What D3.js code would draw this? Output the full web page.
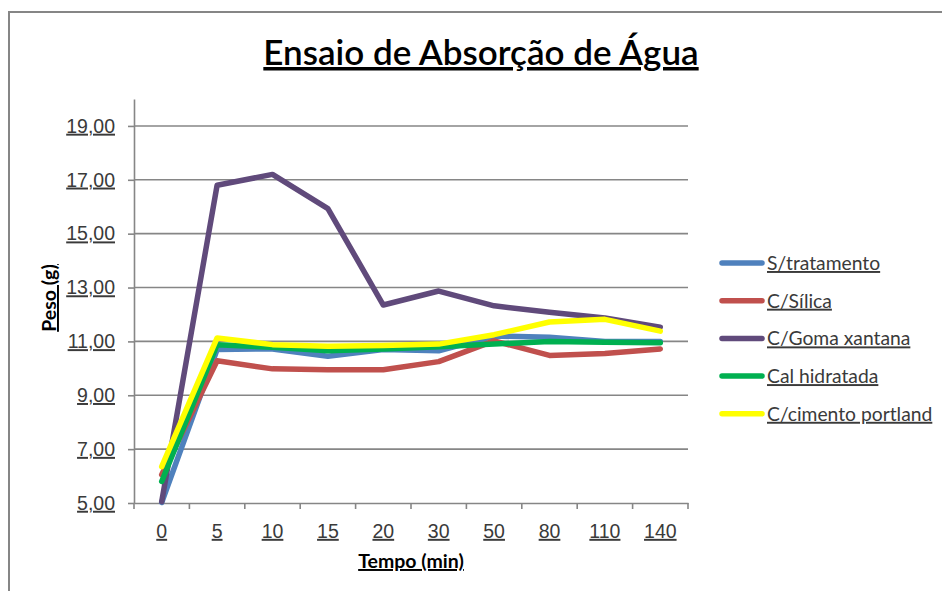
<!doctype html>
<html lang="pt">
<head>
  <meta charset="UTF-8">
  <title>Ensaio de Absorção de Água</title>
<style>
  body { margin: 0; background: #fff; }
  svg { font-family: Lato, "Open Sans", sans-serif; display: block; }
  .grid line { stroke: #868686; stroke-width: 1.6px; }
  .axis path, .axis line { stroke: #868686; stroke-width: 1.6px; fill: none; }
  .axis text { font-size: 19.5px; fill: #3a3a3a; text-decoration: underline; }
  .u { text-decoration: underline; }
  .line { fill: none; stroke-width: 5.5px; stroke-linejoin: round; stroke-linecap: round; }
</style>
</head>
<body>
<script src="https://d3js.org/d3.v7.min.js"></script>
<script>
var categories = ["0", "5", "10", "15", "20", "30", "50", "80", "110", "140"];
var seriesNames = ["S/tratamento", "C/Sílica", "C/Goma xantana", "Cal hidratada", "C/cimento portland"];
var colors = ["#4F81BD", "#C0504D", "#604A7B", "#00B050", "#FFFF00"];

var sTratamento   = [5.02, 10.70, 10.72, 10.45, 10.70, 10.65, 11.20, 11.15, 11.00, 11.00];
var cSilica       = [6.05, 10.28, 9.98, 9.95, 9.95, 10.25, 11.02, 10.48, 10.55, 10.72];
var cGomaXantana  = [5.05, 16.80, 17.20, 15.93, 12.35, 12.87, 12.32, 12.08, 11.87, 11.53];
var calHidratada  = [5.80, 10.88, 10.78, 10.65, 10.72, 10.80, 10.90, 11.00, 10.97, 10.95];
var cCimento      = [6.35, 11.13, 10.88, 10.82, 10.85, 10.90, 11.25, 11.72, 11.82, 11.38];

var yTicks = [5, 7, 9, 11, 13, 15, 17, 19];

var series = [sTratamento, cSilica, cGomaXantana, calHidratada, cCimento];

var width = 942, height = 591;
var plot = {left: 134, right: 688, top: 99, bottom: 503};

var svg = d3.select("body").append("svg")
    .attr("width", width)
    .attr("height", height);

// chart frame (only top/left visible in the crop)
svg.append("rect")
    .attr("x", 9).attr("y", 12)
    .attr("width", 1000).attr("height", 700)
    .attr("fill", "none")
    .attr("stroke", "#868686")
    .attr("stroke-width", 2);

var x = d3.scaleBand()
    .domain(categories)
    .range([plot.left, plot.right]);

var y = d3.scaleLinear()
    .domain([5, 20])
    .range([plot.bottom, plot.top]);

// gridlines
svg.append("g")
    .attr("class", "grid")
    .selectAll("line")
    .data(yTicks.slice(1))
    .enter().append("line")
    .attr("x1", plot.left).attr("x2", plot.right)
    .attr("y1", function(d) { return y(d); })
    .attr("y2", function(d) { return y(d); });

var yAxis = d3.axisLeft(y)
    .tickValues(yTicks)
    .tickFormat(function(d) { return d3.format(".2f")(d).replace(".", ","); })
    .tickSizeInner(6)
    .tickSizeOuter(0)
    .tickPadding(13);

svg.append("g")
    .attr("class", "axis")
    .attr("transform", "translate(" + plot.left + ",0)")
    .call(yAxis);

// x axis: ticks between categories
var xAxis = d3.axisBottom(x)
    .tickSize(0)
    .tickPadding(21);

var gx = svg.append("g")
    .attr("class", "axis")
    .attr("transform", "translate(0," + plot.bottom + ")")
    .call(xAxis);

gx.selectAll(".bound")
    .data(d3.range(categories.length + 1))
    .enter().append("line")
    .attr("class", "bound")
    .attr("x1", function(i) { return plot.left + i * x.step(); })
    .attr("x2", function(i) { return plot.left + i * x.step(); })
    .attr("y1", 0).attr("y2", 6);

var line = d3.line()
    .x(function(d, i) { return x(categories[i]) + x.bandwidth() / 2; })
    .y(function(d) { return y(d); });

svg.append("g")
    .selectAll("path")
    .data(series)
    .enter().append("path")
    .attr("class", "line")
    .attr("stroke", function(d, i) { return colors[i]; })
    .attr("d", line);

// title
svg.append("text")
    .attr("class", "u")
    .attr("x", 481).attr("y", 65)
    .attr("text-anchor", "middle")
    .attr("font-size", 35)
    .attr("font-weight", 600)
    .attr("fill", "#000")
    .text("Ensaio de Absorção de Água");

// axis titles
svg.append("text")
    .attr("class", "u")
    .attr("x", 411).attr("y", 568)
    .attr("text-anchor", "middle")
    .attr("font-size", 19.5)
    .attr("font-weight", "bold")
    .text("Tempo (min)");

svg.append("text")
    .attr("class", "u")
    .attr("transform", "translate(56,298) rotate(-90)")
    .attr("text-anchor", "middle")
    .attr("font-size", 19.5)
    .attr("font-weight", "bold")
    .text("Peso (g)");

// legend
var legend = svg.append("g")
    .selectAll("g")
    .data(seriesNames)
    .enter().append("g")
    .attr("transform", function(d, i) { return "translate(722," + (263 + i * 37.7) + ")"; });

legend.append("line")
    .attr("x1", 0).attr("x2", 40)
    .attr("stroke", function(d, i) { return colors[i]; })
    .attr("stroke-width", 5.5)
    .attr("stroke-linecap", "round");

legend.append("text")
    .attr("class", "u")
    .attr("x", 45).attr("y", 7)
    .attr("font-size", 19.3)
    .attr("fill", "#3a3a3a")
    .text(function(d) { return d; });
</script>
</body>
</html>
